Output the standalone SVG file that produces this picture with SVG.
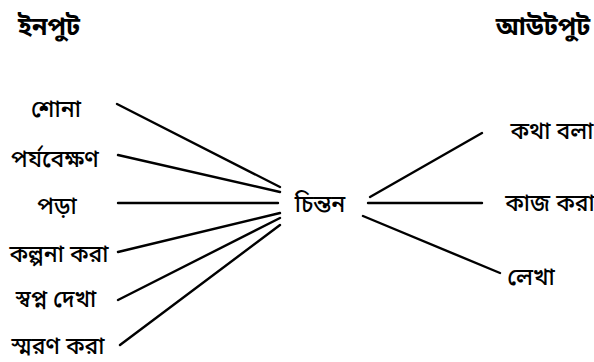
<svg xmlns="http://www.w3.org/2000/svg" width="594" height="362" viewBox="0 0 594 362">
<style>
text{font-family:"Noto Sans Bengali","Noto Serif Bengali","Lohit Bengali","Noto Sans",sans-serif;fill:#000;text-anchor:middle}
.h{font-size:25px;font-weight:bold}
.t{font-size:23px;font-weight:500}
.c line{stroke:#000;stroke-width:2.4;stroke-linecap:round}
</style>
<rect width="594" height="362" fill="#fff"/>
<g id="heading-input"><text class="h" x="49" y="35">ইনপুট</text></g>
<g id="heading-output"><text class="h" x="543" y="35">আউটপুট</text></g>
<g id="n-shona"><text class="t" x="56" y="117">শোনা</text></g>
<g id="n-porjobekkhon"><text class="t" x="55" y="167">পর্যবেক্ষণ</text></g>
<g id="n-pora"><text class="t" x="57" y="214">পড়া</text></g>
<g id="n-kolpona"><text class="t" x="59" y="262">কল্পনা করা</text></g>
<g id="n-swapno"><text class="t" x="56" y="307">স্বপ্ন দেখা</text></g>
<g id="n-smoron"><text class="t" x="58" y="354">স্মরণ করা</text></g>
<g id="n-chinton"><text class="t" x="320" y="212">চিন্তন</text></g>
<g id="n-kotha"><text class="t" x="552" y="139">কথা বলা</text></g>
<g id="n-kaj"><text class="t" x="550" y="211">কাজ করা</text></g>
<g id="n-lekha"><text class="t" x="531" y="285">লেখা</text></g>
<g class="c" id="connectors">
<line x1="117" y1="104" x2="280" y2="187"/>
<line x1="118" y1="155" x2="280" y2="192"/>
<line x1="118" y1="203" x2="278" y2="203"/>
<line x1="118" y1="252" x2="280" y2="213"/>
<line x1="118" y1="300" x2="280" y2="218"/>
<line x1="120" y1="345" x2="280" y2="225"/>
<line x1="370" y1="197" x2="482" y2="133"/>
<line x1="368" y1="203" x2="482" y2="203"/>
<line x1="363" y1="216" x2="500" y2="273"/>
</g>
</svg>
